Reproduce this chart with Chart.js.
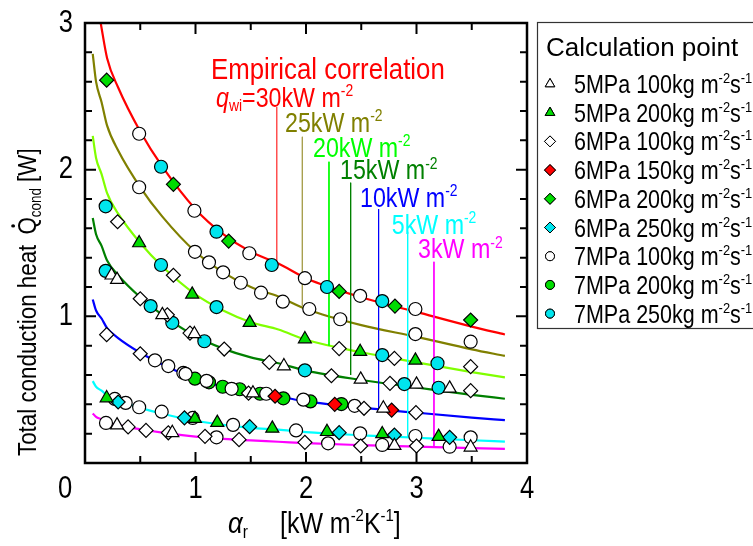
<!DOCTYPE html>
<html>
<head>
<meta charset="utf-8">
<script src="https://cdn.jsdelivr.net/npm/chart.js@4.4.1/dist/chart.umd.min.js"></script>
<style>
html,body{margin:0;padding:0;background:#fff;}
#wrap{width:753px;height:546px;}
</style>
</head>
<body>
<div id="wrap"><canvas id="heatChart" width="753" height="546"></canvas></div>
<script>
const FONT="'Liberation Sans',Arial,sans-serif";

// empirical correlation curves (alpha_r [kW/m2K], Q [W])
const curveX=[0.07,0.1,0.15,0.2,0.3,0.5,0.7,1.0,1.25,1.5,1.75,2.0,2.5,3.0,3.5,3.8];
const redX=[0.142,0.2,0.3,0.5,0.7,1.0,1.25,1.5,1.75,2.0,2.5,3.0,3.5,3.8];
const q30=[3.0,2.76,2.56,2.26,2.02,1.73,1.56,1.44,1.36,1.26,1.13,1.03,0.93,0.876];
const q25=[2.79,2.6,2.46,2.3,2.13,1.88,1.68,1.44,1.30,1.20,1.135,1.05,0.94,0.86,0.775,0.73];
const q20=[2.23,2.08,1.97,1.84,1.70,1.50,1.34,1.15,1.04,0.96,0.91,0.84,0.755,0.686,0.62,0.584];
const q15=[1.67,1.56,1.48,1.38,1.28,1.13,1.01,0.864,0.78,0.72,0.68,0.63,0.566,0.515,0.465,0.438];
const q10=[1.115,1.04,0.985,0.92,0.852,0.752,0.672,0.576,0.52,0.48,0.454,0.42,0.377,0.343,0.31,0.292];
const q5=[0.558,0.52,0.493,0.46,0.426,0.376,0.336,0.288,0.26,0.24,0.227,0.21,0.189,0.172,0.155,0.146];
const q3=[0.338,0.315,0.298,0.278,0.258,0.23,0.207,0.18,0.165,0.154,0.145,0.135,0.122,0.111,0.101,0.096];

// leader lines from the labels down to each curve
const leaderX=[1.735,1.967,2.208,2.404,2.657,2.92,3.158];
const leaderTop=[2.427,2.224,2.054,1.911,1.731,1.577,1.372];
const leaderBottom=[1.36,1.07,0.80,0.60,0.37,0.175,0.108];

// calculation points [alpha_r, Q]
const p5_100=[[0.24,1.28],[0.29,1.25],[0.70,1.01],[0.99,0.88],[1.80,0.661],[2.495,0.57],[3.0,0.536],[3.30,0.509],
  [1.52,0.476],[2.70,0.373],[0.29,0.258],[0.79,0.206],[2.80,0.118],[3.49,0.107]];
const p5_200=[[0.49,1.50],[0.97,1.15],[1.49,0.957],[1.99,0.845],[2.49,0.759],[2.99,0.70],
  [0.196,0.443],[0.995,0.302],[1.197,0.275],[1.695,0.236],[2.19,0.213],[2.69,0.198],[3.20,0.18]];
const p6_100=[[0.295,1.645],[0.80,1.28],[0.50,1.12],[0.745,1.01],[0.196,0.875],[0.95,0.886],[1.26,0.777],[1.668,0.686],
  [2.23,0.595],[2.76,0.543],[3.49,0.493],[2.30,0.78],[2.80,0.713],[3.49,0.657],
  [0.50,0.745],[1.48,0.476],[2.525,0.373],[2.995,0.343],
  [0.39,0.246],[0.552,0.222],[0.754,0.206],[1.086,0.182],[1.394,0.159],[1.99,0.141],[2.495,0.116],[3.0,0.116]];
const p6_150=[[1.72,0.455],[2.26,0.40],[2.775,0.361]];
const p6_200=[[0.196,2.61],[0.80,1.90],[1.30,1.513],[2.30,1.17],[2.805,1.07],[3.49,0.975]];
const p6_250=[[0.30,0.416],[0.90,0.308],[1.49,0.248],[2.30,0.207],[2.80,0.191],[3.30,0.175]];
const p7_100=[[0.49,2.245],[0.99,1.72],[1.487,1.43],[1.99,1.26],[2.49,1.14],[2.99,1.05],
  [0.49,1.88],[0.995,1.44],[1.122,1.368],[1.25,1.30],[1.41,1.229],[1.593,1.161],[1.79,1.10],[2.03,1.05],[2.31,0.98],[2.99,0.879],[3.49,0.827],
  [0.633,0.70],[0.754,0.661],[0.89,0.615],[0.91,0.608],[1.10,0.56],[1.327,0.506],[1.64,0.472],[1.976,0.432],[2.44,0.39],
  [0.27,0.437],[0.368,0.41],[0.49,0.38],[0.694,0.35],[0.975,0.307],[1.34,0.26],[1.91,0.222],[2.49,0.202],[2.99,0.184],[3.49,0.175],
  [0.19,0.273],[1.19,0.175],[2.20,0.134],[2.69,0.123],[3.30,0.111]];
const p7_200=[[0.995,0.575],[1.122,0.55],[1.246,0.52],[1.40,0.503],[1.584,0.472],[1.795,0.441],[2.04,0.42],[2.32,0.402]];
const p7_250=[[0.187,1.75],[0.688,2.02],[0.688,1.35],[0.187,1.31],[0.594,1.07],[0.79,0.956],[1.19,1.577],[1.69,1.35],
  [1.19,1.063],[1.08,0.83],[2.19,1.20],[2.69,1.104],[1.99,0.632],[2.69,0.736],[3.19,0.68],[2.89,0.538],[3.2,0.513]];

const xTicks=[0,1,2,3,4];
const yTicks=[0,1,2,3];

// curve colours / labels
const curveColors=["#ff0000","#808000","#80ff00","#008000","#0000ff","#00ffff","#ff00ff"];
const leaderColors=["#ff5050","#a8a050","#00ff00","#008000","#0000ff","#00ffff","#ff00ff"];

function xy(xs,ys){
    return xs.map(function(x,i){return {x:x,y:ys[i]};});
}
function pts(arr){
    return arr.map(function(p){return {x:p[0],y:p[1]};});
}

var datasets=[];
var curveData=[xy(redX,q30),xy(curveX,q25),xy(curveX,q20),xy(curveX,q15),xy(curveX,q10),xy(curveX,q5),xy(curveX,q3)];
curveData.forEach(function(d,i){
    datasets.push({type:"line",data:d,borderColor:curveColors[i],borderWidth:2.2,pointRadius:0,
        cubicInterpolationMode:"monotone",fill:false,order:10});
});
leaderX.forEach(function(x,i){
    datasets.push({type:"line",data:[{x:x,y:leaderTop[i]},{x:x,y:leaderBottom[i]}],borderColor:leaderColors[i],
        borderWidth:1,pointRadius:0,fill:false,order:9});
});

// legend entries (also the point styles)
const series=[
    {name:"5MPa 100",data:p5_100,style:"triangle",fill:"#ffffff"},
    {name:"5MPa 200",data:p5_200,style:"triangle",fill:"#00dd00"},
    {name:"6MPa 100",data:p6_100,style:"rectRot",fill:"#ffffff"},
    {name:"6MPa 150",data:p6_150,style:"rectRot",fill:"#ff0000"},
    {name:"6MPa 200",data:p6_200,style:"rectRot",fill:"#00dd00"},
    {name:"6MPa 250",data:p6_250,style:"rectRot",fill:"#00e5ee"},
    {name:"7MPa 100",data:p7_100,style:"circle",fill:"#ffffff"},
    {name:"7MPa 200",data:p7_200,style:"circle",fill:"#00dd00"},
    {name:"7MPa 250",data:p7_250,style:"circle",fill:"#00e5ee"}
];
function markerRadius(style){
    if(style==="triangle") return 7.5;
    if(style==="rectRot") return 7;
    return 6.5;
}
series.forEach(function(s){
    datasets.push({type:"scatter",data:pts(s.data),pointStyle:s.style,pointRadius:markerRadius(s.style),
        pointBackgroundColor:s.fill,pointBorderColor:"#000",pointBorderWidth:1.2,order:1});
});

// annotation text (x, baseline y in data units)
const annotations=[
    {parts:[["Empirical correlation",""]],color:"#ff0000",x:1.14,y:2.62,size:29,sx:0.89},
    {parts:[["q","i"],["wi","sub"],["=30kW m",""],["-2","sup"]],color:"#ff0000",x:1.186,y:2.43,size:27,sx:0.86},
    {parts:[["25kW m",""],["-2","sup"]],color:"#808000",x:1.81,y:2.258,size:27,sx:0.86},
    {parts:[["20kW m",""],["-2","sup"]],color:"#00ff00",x:2.063,y:2.088,size:27,sx:0.86},
    {parts:[["15kW m",""],["-2","sup"]],color:"#008000",x:2.308,y:1.934,size:27,sx:0.86},
    {parts:[["10kW m",""],["-2","sup"]],color:"#0000ff",x:2.489,y:1.747,size:27,sx:0.86},
    {parts:[["5kW m",""],["-2","sup"]],color:"#00ffff",x:2.776,y:1.561,size:27,sx:0.86},
    {parts:[["3kW m",""],["-2","sup"]],color:"#ff00ff",x:3.014,y:1.395,size:27,sx:0.86}
];

// text with super/subscripts, squeezed horizontally by sx
function drawRich(ctx,x,y,parts,size,sx){
    sx=sx||1;
    ctx.save();
    ctx.translate(x,y);
    ctx.scale(sx,1);
    var cx=0;
    parts.forEach(function(p){
        var t=p[0],k=p[1],fs=size,dy=0,st="";
        if(k==="sup"){fs=size*0.6;dy=-size*0.4;}
        if(k==="sub"){fs=size*0.6;dy=size*0.18;}
        if(k==="i"){st="italic ";}
        if(k==="gap"){cx+=size*t;return;}
        ctx.font=st+fs+"px "+FONT;
        if(k==="dot"){
            ctx.fillText(t,cx,0);
            var w=ctx.measureText(t).width;
            ctx.beginPath();
            ctx.arc(cx+w/2,-size*0.88,size*0.075,0,Math.PI*2);
            ctx.fill();
            cx+=w;
            return;
        }
        ctx.fillText(t,cx,dy);
        cx+=ctx.measureText(t).width;
    });
    ctx.restore();
    return x+cx*sx;
}
function drawNum(ctx,t,x,y,align){
    ctx.save();
    ctx.translate(x,y);
    ctx.scale(0.8,1);
    ctx.font="32px "+FONT;
    ctx.textAlign=align;
    ctx.textBaseline="middle";
    ctx.fillText(t,0,0);
    ctx.restore();
}

const framePlugin={
    id:"frame",
    afterDatasetsDraw:function(chart){
        var ctx=chart.ctx,a=chart.chartArea,xs=chart.scales.x,ys=chart.scales.y;
        ctx.save();
        // annotation labels
        ctx.textBaseline="alphabetic";
        annotations.forEach(function(an){
            ctx.fillStyle=an.color;
            drawRich(ctx,xs.getPixelForValue(an.x),ys.getPixelForValue(an.y),an.parts,an.size,an.sx);
        });
        // frame
        ctx.strokeStyle="#000";
        ctx.lineWidth=2.5;
        ctx.strokeRect(a.left,a.top,a.right-a.left,a.bottom-a.top);
        // inward ticks on all four sides
        ctx.lineWidth=2;
        for(var v=0.5;v<4;v+=0.5){
            var px=xs.getPixelForValue(v),len=(v%1===0)?11:7;
            ctx.beginPath();
            ctx.moveTo(px,a.bottom);ctx.lineTo(px,a.bottom-len);
            ctx.moveTo(px,a.top);ctx.lineTo(px,a.top+len);
            ctx.stroke();
        }
        for(var k=1;k<15;k++){
            var val=k*0.2,py=ys.getPixelForValue(val),l2=(k%5===0)?11:7;
            ctx.beginPath();
            ctx.moveTo(a.left,py);ctx.lineTo(a.left+l2,py);
            ctx.moveTo(a.right,py);ctx.lineTo(a.right-l2,py);
            ctx.stroke();
        }
        // tick labels (shared origin label sits in the corner)
        ctx.fillStyle="#000";
        xs.ticks.forEach(function(t){
            if(t.value!==0) drawNum(ctx,String(t.value),xs.getPixelForValue(t.value),a.bottom+26,"center");
        });
        ys.ticks.forEach(function(t){
            if(t.value!==0) drawNum(ctx,String(t.value),a.left-12,ys.getPixelForValue(t.value),"right");
        });
        drawNum(ctx,"0",a.left-20,a.bottom+26,"center");
        // axis titles
        ctx.textAlign="left";
        ctx.textBaseline="alphabetic";
        drawRich(ctx,228,533,[["\u03b1","i"],["r","sub"]],30,0.86);
        drawRich(ctx,280,533,[["[kW m",""],["-2","sup"],["K",""],["-1","sup"],["]",""]],29,0.86);
        ctx.save();
        ctx.translate(36,456);
        ctx.rotate(-Math.PI/2);
        drawRich(ctx,0,0,[["Total conduction heat",""],[0.45,"gap"],["Q","dot"],["cond","sub"],[" [W]",""]],26,0.86);
        ctx.restore();
        // legend box
        ctx.strokeStyle="#333";
        ctx.lineWidth=1.2;
        ctx.strokeRect(537.5,22.5,230,306);
        ctx.fillStyle="#000";
        drawRich(ctx,546,56,[["Calculation point",""]],26,1);
        series.forEach(function(s,i){
            var ry=84+i*28.7;
            ctx.fillStyle=s.fill;
            ctx.strokeStyle="#000";
            ctx.lineWidth=1;
            Chart.helpers.drawPoint(ctx,{pointStyle:s.style,radius:s.style==="circle"?4.5:5.5,borderWidth:1},550,ry);
            ctx.fill();
            ctx.stroke();
            ctx.fillStyle="#000";
            drawRich(ctx,574,ry+9,[[s.name+"kg m",""],["-2","sup"],["s",""],["-1","sup"]],25,0.86);
        });
        ctx.restore();
    }
};

let heatCtx=document.getElementById("heatChart").getContext("2d");
let heatChart=new Chart(heatCtx,{
    type:"scatter",
    data:{datasets:datasets},
    options:{
        responsive:false,
        animation:false,
        layout:{padding:{left:0,right:226,top:23,bottom:0}},
        plugins:{legend:{display:false},tooltip:{enabled:false}},
        scales:{
            x:{
                type:"linear",min:0,max:4,
                afterBuildTicks:function(s){s.ticks=xTicks.map(function(v){return {value:v};});},
                afterFit:function(s){s.height=83;},
                grid:{display:false,drawTicks:false},
                border:{display:false},
                ticks:{display:false}
            },
            y:{
                type:"linear",min:0,max:3,
                afterBuildTicks:function(s){s.ticks=yTicks.map(function(v){return {value:v};});},
                afterFit:function(s){s.width=85;},
                grid:{display:false,drawTicks:false},
                border:{display:false},
                ticks:{display:false}
            }
        }
    },
    plugins:[framePlugin]
});
</script>
</body>
</html>
